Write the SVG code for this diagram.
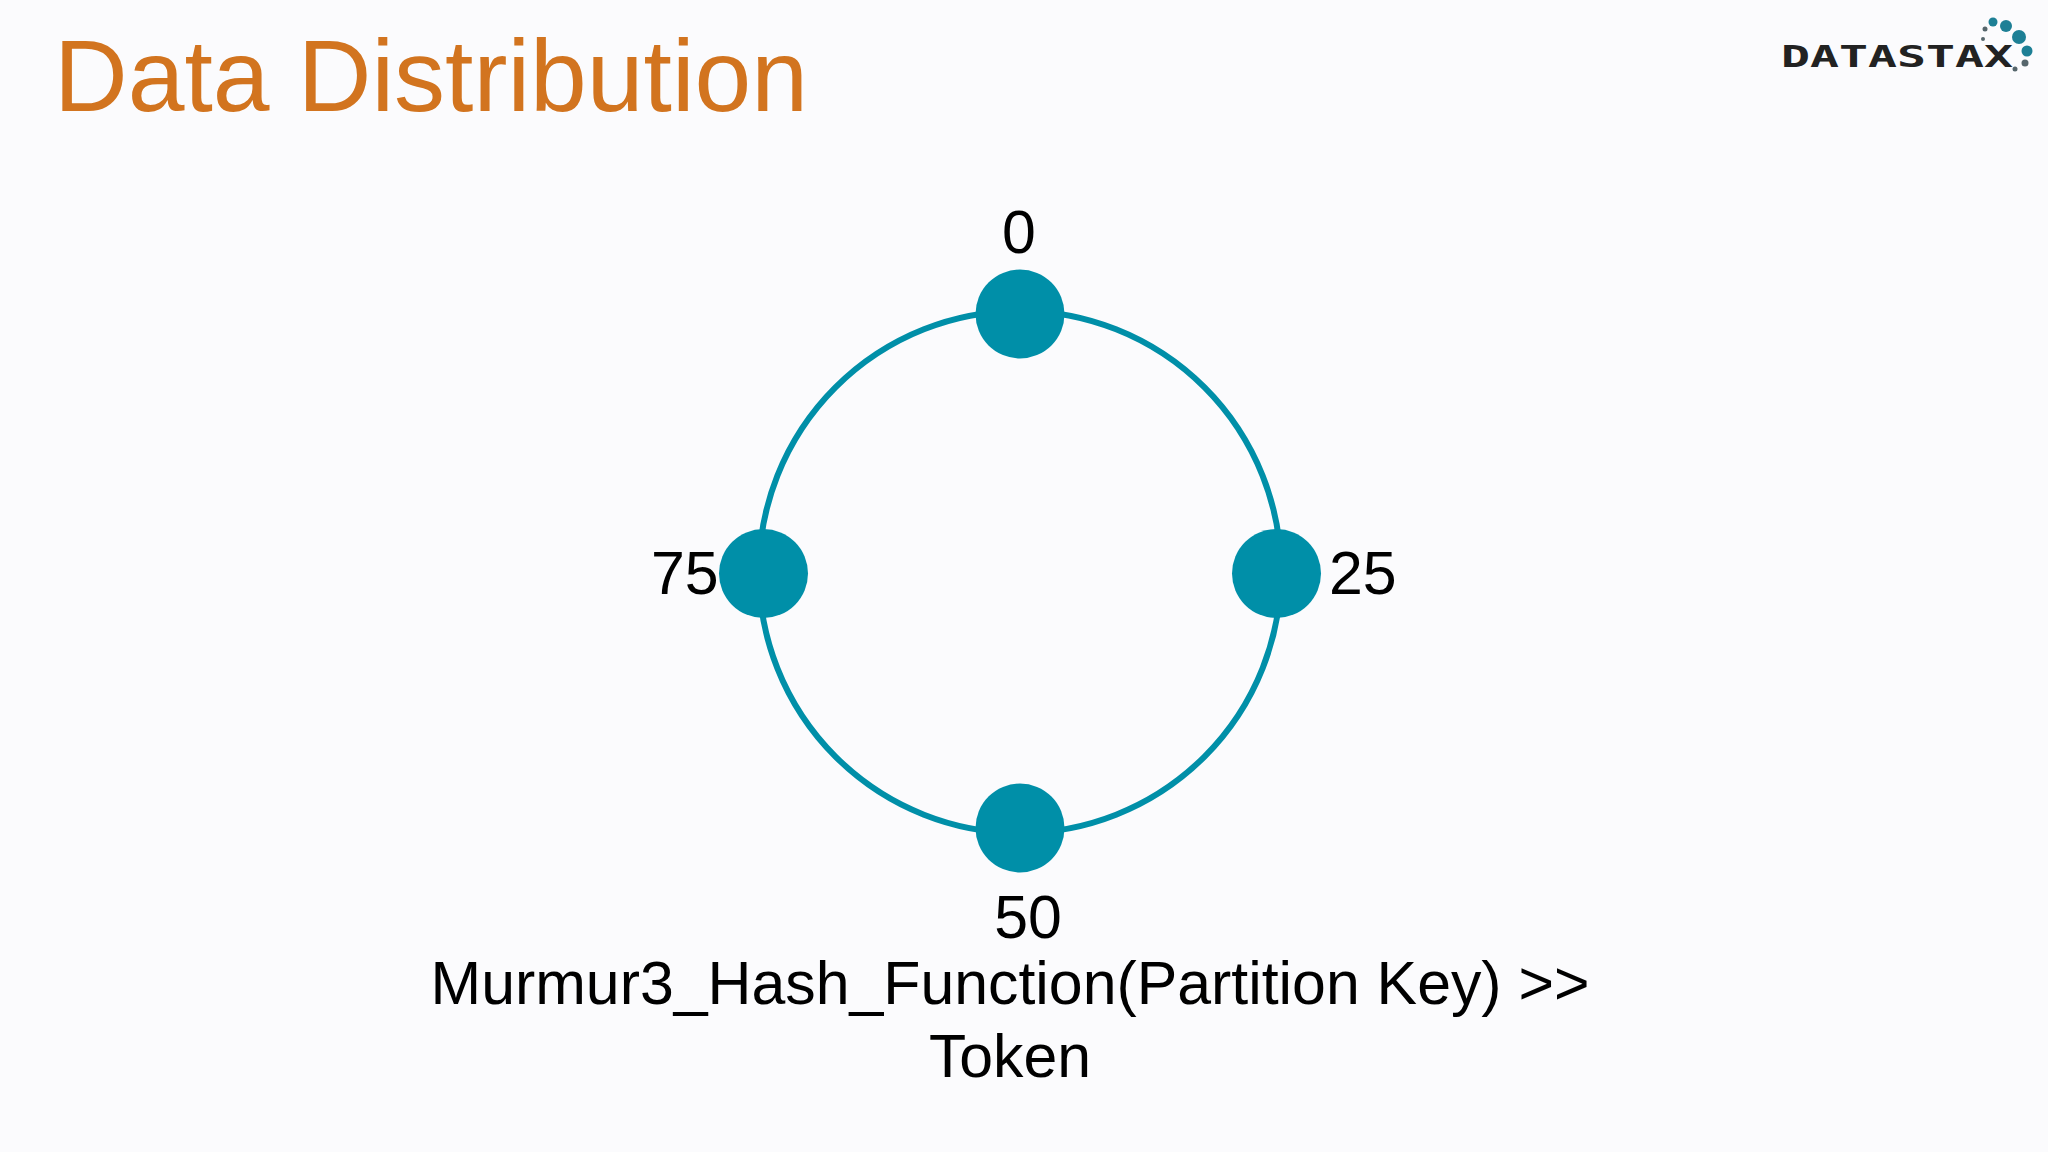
<svg xmlns="http://www.w3.org/2000/svg" width="2048" height="1152" viewBox="0 0 2048 1152">
<style>
.t{font-family:"Liberation Sans",Arial,sans-serif;fill:#000;font-size:60.800px}
.n{fill:#008fa8}
.d{fill:#1d7f95}
.g{fill:#56666c}
</style>
<rect width="2048" height="1152" fill="#fbfbfd"/>
<text x="54" y="111" font-family="'Liberation Sans',Arial,sans-serif" font-size="102" fill="#d2741f">Data Distribution</text>
<g id="logo">
<text x="1781" y="67" font-family="'DejaVu Sans Mono',monospace" font-weight="bold" font-size="30" fill="#222" textLength="232" lengthAdjust="spacingAndGlyphs">DATASTAX</text>
<circle class="d" cx="1993" cy="22" r="4.500"/><circle class="d" cx="2006" cy="26" r="6"/><circle class="d" cx="2019" cy="37" r="7"/><circle class="d" cx="2027" cy="51" r="5.500"/><circle class="g" cx="2025" cy="63" r="3.500"/><circle class="g" cx="2015" cy="69" r="2.500"/><circle class="g" cx="1985" cy="29" r="2.500"/><circle class="g" cx="1983" cy="39" r="2"/>
</g>
<g id="connectors"><circle cx="1020" cy="572" r="261" fill="none" stroke="#008fa8" stroke-width="6"/></g>
<g id="node-0"><circle class="n" cx="1020" cy="314" r="44.500"/><text class="t" x="1019" y="253" text-anchor="middle">0</text></g>
<g id="node-25"><circle class="n" cx="1276.500" cy="573.500" r="44.500"/><text class="t" x="1329" y="594">25</text></g>
<g id="node-50"><circle class="n" cx="1020" cy="828" r="44.500"/><text class="t" x="1028" y="938" text-anchor="middle">50</text></g>
<g id="node-75"><circle class="n" cx="763.500" cy="573.500" r="44.500"/><text class="t" x="651" y="594">75</text></g>
<g id="caption"><text class="t" x="1010" y="1004" text-anchor="middle">Murmur3_Hash_Function(Partition Key) &gt;&gt;</text><text class="t" x="1010" y="1077" text-anchor="middle">Token</text></g>
</svg>
